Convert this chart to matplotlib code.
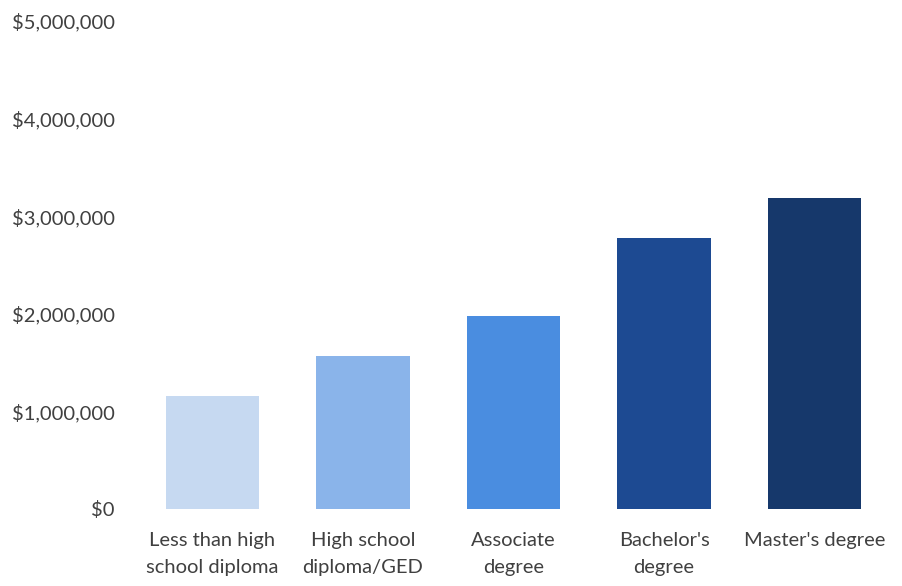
import matplotlib.pyplot as plt
from matplotlib.ticker import FuncFormatter

categories = ['Less than high\nschool diploma', 'High school\ndiploma/GED',
              'Associate\ndegree', "Bachelor's\ndegree", "Master's degree"]
earnings = [1_160_000, 1_570_000, 1_980_000, 2_780_000, 3_190_000]
bar_colors = ['#c6d9f1', '#8ab4ea', '#4a8de0', '#1d4a92', '#16386b']
yticks = [0, 1_000_000, 2_000_000, 3_000_000, 4_000_000, 5_000_000]

plt.rcParams['font.family'] = ['Lato', 'DejaVu Sans']

fig = plt.figure(figsize=(9.03, 5.86), dpi=100)
ax = fig.add_axes([137 / 903, 1 - 509 / 586, (890 - 137) / 903, (509 - 21) / 586])

x = range(len(categories))
ax.bar(x, earnings, width=0.62, color=bar_colors)

ax.set_xlim(-0.5, len(categories) - 0.5)
ax.set_ylim(0, 5_000_000)
ax.set_yticks(yticks)
ax.yaxis.set_major_formatter(FuncFormatter(lambda v, _: f'${v:,.0f}'))
ax.set_xticks(list(x))
ax.set_xticklabels(categories, linespacing=1.75)

ax.tick_params(axis='both', length=0, labelsize=14.5, labelcolor='#404040')
ax.tick_params(axis='y', pad=16)
ax.tick_params(axis='x', pad=16.5)
for s in ax.spines.values():
    s.set_visible(False)

fig.savefig('out.png', dpi=100)
